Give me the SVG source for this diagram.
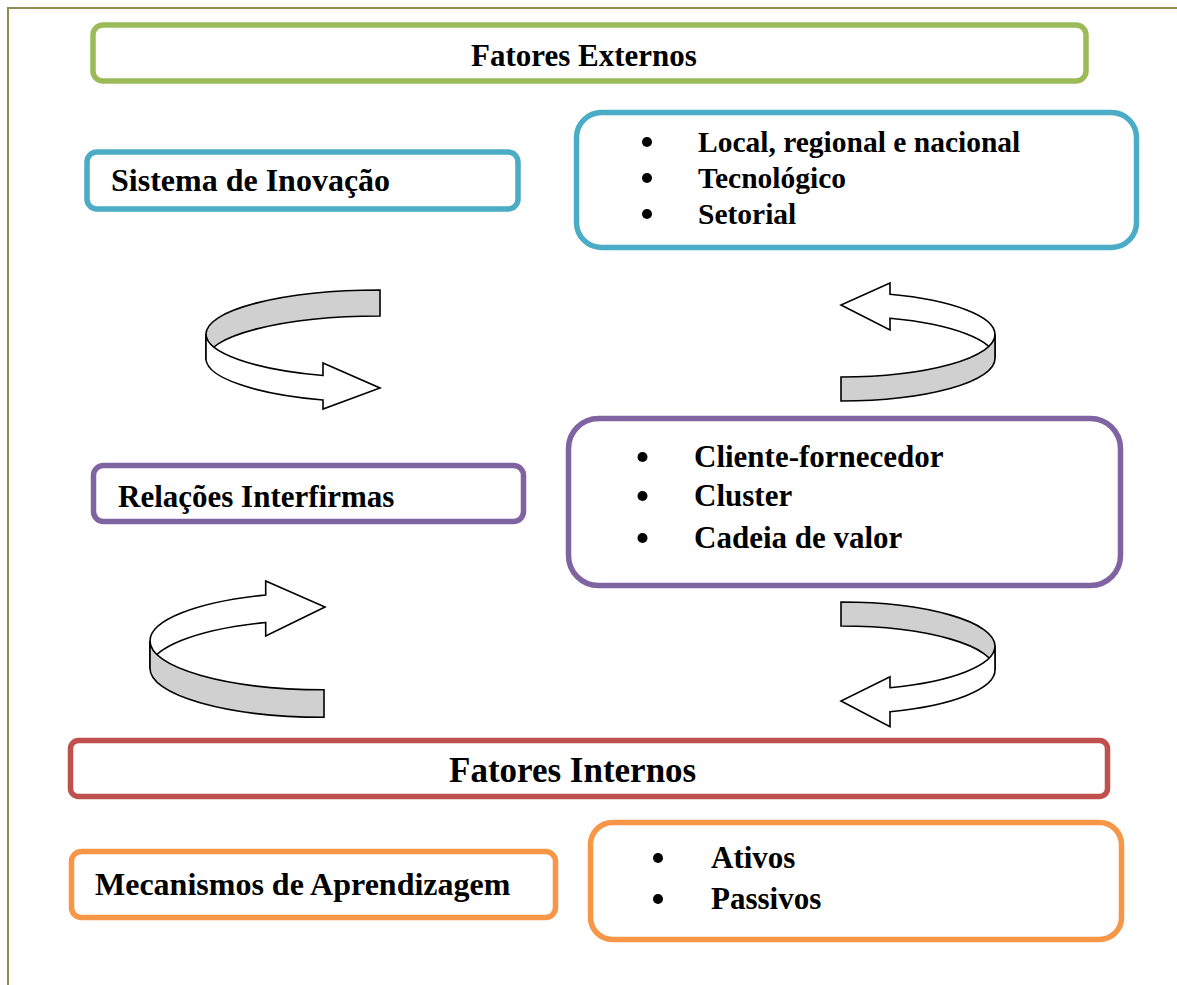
<svg xmlns="http://www.w3.org/2000/svg" width="1177" height="985" viewBox="0 0 1177 985">
  <style>
    .lbl { font-family: "Liberation Serif", "Times New Roman", serif; font-weight: bold; font-size: 31px; fill: #000; }
    .sm { font-size: 29.5px; }
    .md { font-size: 32px; }
    .lg { font-size: 35px; }
    .box { fill: #fff; stroke-width: 5.5; }
    .green { stroke: #9BBB59; }
    .blue { stroke: #4BACC6; }
    .purple { stroke: #8064A2; }
    .red { stroke: #C0504D; }
    .orange { stroke: #F79646; }
    .dot { fill: #000; }
    .back { stroke: #000; stroke-width: 1.6; stroke-linejoin: miter; }
    .grey { fill: #D0D0D0; }
    .white { fill: #fff; }
  </style>

  <!-- page frame -->
  <polyline points="8,985 8,8 1177,8" fill="none" stroke="#948A54" stroke-width="2"/>

  <g id="fatores-externos">
    <rect class="box green" x="93" y="25" width="993" height="56" rx="10"/>
    <text class="lbl" x="471" y="66">Fatores Externos</text>
  </g>

  <g id="sistema-inovacao">
    <rect class="box blue" x="87" y="152" width="431" height="57" rx="10"/>
    <text class="lbl md" x="111" y="191">Sistema de Inovação</text>
  </g>

  <g id="sistema-tipos">
    <rect class="box blue" x="576.5" y="112.5" width="560" height="135" rx="25"/>
    <circle class="dot" cx="647" cy="142" r="5"/>
    <circle class="dot" cx="647" cy="178" r="5"/>
    <circle class="dot" cx="647" cy="214" r="5"/>
    <text class="lbl sm" x="698" y="152">Local, regional e nacional</text>
    <text class="lbl sm" x="698" y="188">Tecnológico</text>
    <text class="lbl sm" x="698" y="224">Setorial</text>
  </g>

  <g id="relacoes-interfirmas">
    <rect class="box purple" x="93.5" y="465.5" width="430" height="56" rx="10"/>
    <text class="lbl" x="118" y="507">Relações Interfirmas</text>
  </g>

  <g id="relacoes-tipos">
    <rect class="box purple" x="568.5" y="418.5" width="552" height="167" rx="30"/>
    <circle class="dot" cx="642.5" cy="457" r="5"/>
    <circle class="dot" cx="642.5" cy="496" r="5"/>
    <circle class="dot" cx="642.5" cy="538" r="5"/>
    <text class="lbl" x="694" y="467">Cliente-fornecedor</text>
    <text class="lbl" x="694" y="506">Cluster</text>
    <text class="lbl" x="694" y="548">Cadeia de valor</text>
  </g>

  <g id="fatores-internos">
    <rect class="box red" x="70.5" y="740.5" width="1037" height="56" rx="8"/>
    <text class="lbl lg" x="449" y="782">Fatores Internos</text>
  </g>

  <g id="mecanismos">
    <rect class="box orange" x="71.5" y="851.5" width="484" height="66" rx="10"/>
    <text class="lbl md" x="95" y="895">Mecanismos de Aprendizagem</text>
  </g>

  <g id="mecanismos-tipos">
    <rect class="box orange" x="590.5" y="822.5" width="531" height="117" rx="22"/>
    <circle class="dot" cx="658" cy="858" r="5"/>
    <circle class="dot" cx="658" cy="899" r="5"/>
    <text class="lbl" x="711" y="868">Ativos</text>
    <text class="lbl" x="711" y="909">Passivos</text>
  </g>

  <!-- curved ribbon arrows: back half of the band first, front half on top -->
  <g id="connectors">
    <g id="arrow-top-left">
      <path class="back grey" d="M380,290 A174,44 0 0 0 206,334 L206,360 A174,44 0 0 1 380,316 Z"/>
      <path class="back white" d="M206,334 A174,44 0 0 0 323,375.5 L323,363 L380,388 L323,409 L323,400 A174,44 0 0 1 206,360 Z"/>
    </g>
    <g id="arrow-top-right">
      <path class="back white" d="M995,334.5 A154,42.5 0 0 0 890,294.2 L890,283 L841,305 L890,330 L890,318.2 A154,42.5 0 0 1 995,358.5 Z"/>
      <path class="back grey" d="M995,334.5 A154,42.5 0 0 1 841,377 L841,401 A154,42.5 0 0 0 995,358.5 Z"/>
    </g>
    <g id="arrow-bottom-left">
      <path class="back white" d="M150,641 A174,48.8 0 0 1 265.7,595 L265.7,581 L325,607 L265.7,636 L265.7,622.5 A174,48.8 0 0 0 150,668.5 Z"/>
      <path class="back grey" d="M150,641 A174,48.8 0 0 0 324,689.8 L324,717.3 A174,48.8 0 0 1 150,668.5 Z"/>
    </g>
    <g id="arrow-bottom-right">
      <path class="back grey" d="M841,602 A154,44 0 0 1 995,646 L995,670 A154,44 0 0 0 841,626 Z"/>
      <path class="back white" d="M995,646 A154,44 0 0 1 890,687.7 L890,676.7 L841,701 L890,726.7 L890,711.7 A154,44 0 0 0 995,670 Z"/>
    </g>
  </g>
</svg>
